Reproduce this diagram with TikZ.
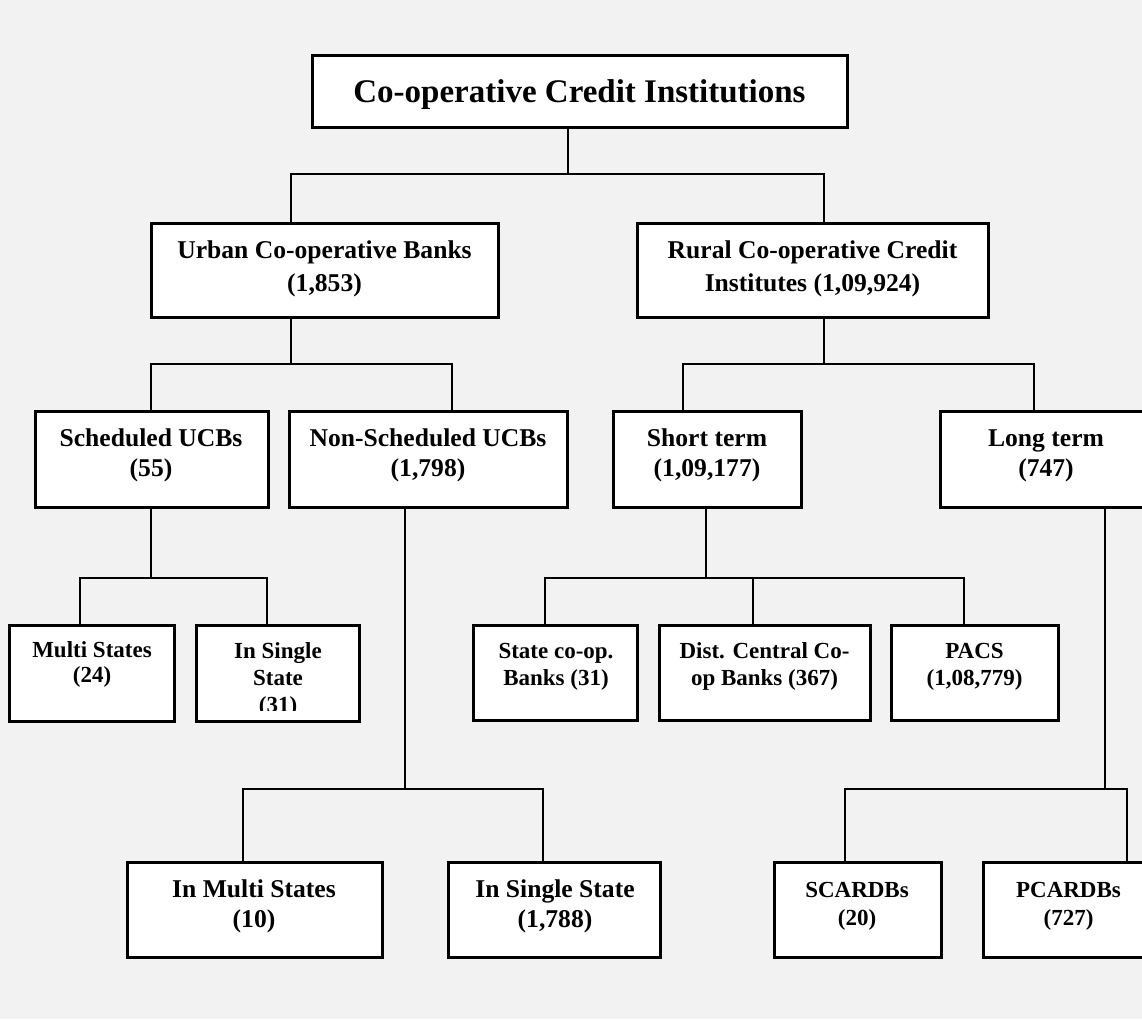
\documentclass[tikz,border=0pt]{standalone}
\usepackage{fontspec}
\setmainfont{Liberation Serif}
\tikzset{
  box/.style={draw, line width=3pt, fill=white, inner sep=0pt},
  conn/.style={line width=2.4pt},
  tl/.style={anchor=base, inner sep=0pt, font=\bfseries\fontsize{25.6}{30}\selectfont},
  sl/.style={anchor=base, inner sep=0pt, font=\bfseries\fontsize{23}{27}\selectfont},
  hl/.style={anchor=base, inner sep=0pt, font=\bfseries\fontsize{33}{38}\selectfont},
}
\begin{document}
\begin{tikzpicture}[x=1pt,y=-1pt]
\clip (0,0) rectangle (1142,1019);
\fill[black!5] (0,0) rectangle (1142,1019);

% boxes
\node[box, minimum width=535pt, minimum height=72pt] (title) at (579.5,92) {};
\node[box, minimum width=347pt, minimum height=94pt] (urban) at (324.5,270) {};
\node[box, minimum width=351pt, minimum height=94pt] (rural) at (812.5,270) {};
\node[box, minimum width=233pt, minimum height=96pt] (sched) at (151.5,459) {};
\node[box, minimum width=278pt, minimum height=96pt] (nonsched) at (428,459) {};
\node[box, minimum width=188pt, minimum height=96pt] (short) at (707,459) {};
\node[box, minimum width=220pt, minimum height=96pt] (long) at (1050,459) {};
\node[box, minimum width=165pt, minimum height=96pt] (multi) at (91.5,673) {};
\node[box, minimum width=163pt, minimum height=96pt] (insingle) at (277.5,673) {};
\node[box, minimum width=164pt, minimum height=95pt] (statecoop) at (555,672.5) {};
\node[box, minimum width=211pt, minimum height=95pt] (dist) at (764.5,672.5) {};
\node[box, minimum width=167pt, minimum height=95pt] (pacs) at (974.5,672.5) {};
\node[box, minimum width=255pt, minimum height=95pt] (inmulti) at (254.5,909.5) {};
\node[box, minimum width=212pt, minimum height=95pt] (insinglest) at (554,909.5) {};
\node[box, minimum width=167pt, minimum height=95pt] (scardb) at (857.5,909.5) {};
\node[box, minimum width=177pt, minimum height=95pt] (pcardb) at (1071.5,909.5) {};

% texts
\node[hl] (title-a) at (579.5,103) {Co-operative Credit Institutions};
\node[tl] (urban-a) at (324.5,258) {Urban Co-operative Banks};
\node[tl] (urban-b) at (324.5,291) {(1,853)};
\node[tl] (rural-a) at (812.5,258) {Rural Co-operative Credit};
\node[tl] (rural-b) at (812.5,291) {Institutes (1,09,924)};
\node[tl] (sched-a) at (151,446) {Scheduled UCBs};
\node[tl] (sched-b) at (151,476) {(55)};
\node[tl] (nonsched-a) at (428,446) {Non-Scheduled UCBs};
\node[tl] (nonsched-b) at (428,476) {(1,798)};
\node[tl] (short-a) at (707,446) {Short term};
\node[tl] (short-b) at (707,476) {(1,09,177)};
\node[tl] (long-a) at (1046,446) {Long term};
\node[tl] (long-b) at (1046,476) {(747)};
\node[sl] (multi-a) at (92,657) {Multi States};
\node[sl] (multi-b) at (92,682) {(24)};
\begin{scope}
\clip (196,625) rectangle (359,710);
\node[sl] (insingle-a) at (278,658) {In Single};
\node[sl] (insingle-b) at (278,685) {State};
\node[sl] (insingle-c) at (278,712) {(31)};
\end{scope}
\node[sl] (statecoop-a) at (556,658) {State co-op.};
\node[sl] (statecoop-b) at (556,685) {Banks (31)};
\node[sl] (dist-a) at (764.5,658) {Dist. Central Co-};
\node[sl] (dist-b) at (764.5,685) {op Banks (367)};
\node[sl] (pacs-a) at (974.5,658) {PACS};
\node[sl] (pacs-b) at (974.5,685) {(1,08,779)};
\node[tl] (inmulti-a) at (254,897) {In Multi States};
\node[tl] (inmulti-b) at (254,927) {(10)};
\node[tl] (insinglest-a) at (555,897) {In Single State};
\node[tl] (insinglest-b) at (555,927) {(1,788)};
\node[sl] (scardb-a) at (857,897) {SCARDBs};
\node[sl] (scardb-b) at (857,925) {(20)};
\node[sl] (pcardb-a) at (1068.5,897) {PCARDBs};
\node[sl] (pcardb-b) at (1068.5,925) {(727)};

% junction coordinates
\coordinate (j0) at (568,174);
\coordinate (j0a) at (291,174);
\coordinate (j0b) at (824,174);
\coordinate (j1) at (291,364);
\coordinate (j1a) at (151,364);
\coordinate (j1b) at (452,364);
\coordinate (j2) at (824,364);
\coordinate (j2a) at (683,364);
\coordinate (j2b) at (1034,364);
\coordinate (j3) at (151,578);
\coordinate (j3a) at (80,578);
\coordinate (j3b) at (267,578);
\coordinate (j4) at (706,578);
\coordinate (j4a) at (545,578);
\coordinate (j4b) at (753,578);
\coordinate (j4c) at (964,578);
\coordinate (j5) at (405,789);
\coordinate (j5a) at (243,789);
\coordinate (j5b) at (543,789);
\coordinate (j6) at (1105,789);
\coordinate (j6a) at (845,789);
\coordinate (j6b) at (1127,789);

% connectors
\draw[conn] (title.south -| j0) -- (j0);
\draw[conn] (urban.north -| j0a) -- (j0a) -- (j0b) -- (rural.north -| j0b);
\draw[conn] (urban.south -| j1) -- (j1);
\draw[conn] (sched.north -| j1a) -- (j1a) -- (j1b) -- (nonsched.north -| j1b);
\draw[conn] (rural.south -| j2) -- (j2);
\draw[conn] (short.north -| j2a) -- (j2a) -- (j2b) -- (long.north -| j2b);
\draw[conn] (sched.south -| j3) -- (j3);
\draw[conn] (multi.north -| j3a) -- (j3a) -- (j3b) -- (insingle.north -| j3b);
\draw[conn] (short.south -| j4) -- (j4);
\draw[conn] (statecoop.north -| j4a) -- (j4a) -- (j4c) -- (pacs.north -| j4c);
\draw[conn] (j4b) -- (dist.north -| j4b);
\draw[conn] (nonsched.south -| j5) -- (j5);
\draw[conn] (inmulti.north -| j5a) -- (j5a) -- (j5b) -- (insinglest.north -| j5b);
\draw[conn] (long.south -| j6) -- (j6);
\draw[conn] (scardb.north -| j6a) -- (j6a) -- (j6b) -- (pcardb.north -| j6b);
\end{tikzpicture}
\end{document}
